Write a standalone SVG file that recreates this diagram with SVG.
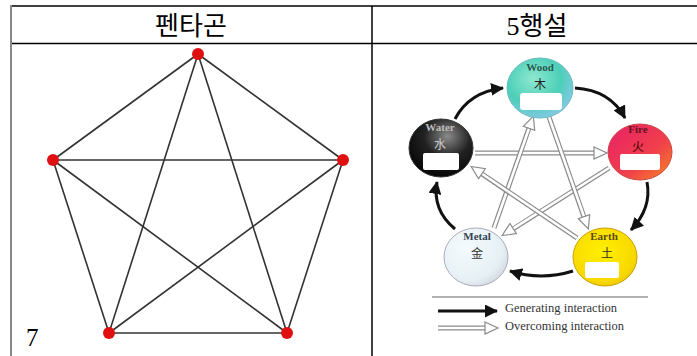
<svg xmlns="http://www.w3.org/2000/svg" width="697" height="356" viewBox="0 0 697 356">
<defs>
<style>
.hdr{font-family:"Liberation Serif","Noto Sans CJK KR",serif;font-size:26px;fill:#000;text-anchor:middle}
.edge{stroke:#333;stroke-width:1.6;fill:none}
.vtx{fill:#e01010}
.lbl{font-family:"Liberation Serif",serif;font-size:11px;text-anchor:middle;font-weight:bold}
.han{font-family:"Noto Sans CJK SC","Noto Sans CJK JP",sans-serif;font-size:12px;text-anchor:middle}
.blank{fill:#fff}
.gen{stroke:#111;stroke-width:3;fill:none;marker-end:url(#gh)}
.ovo{stroke:#8a8a8a;stroke-width:5;fill:none}
.ovi{stroke:#fff;stroke-width:2.6;fill:none;marker-end:url(#oh)}
.leg{font-family:"Liberation Serif",serif;font-size:12.5px;fill:#333}
</style>
<marker id="gh" markerUnits="userSpaceOnUse" markerWidth="15" markerHeight="13" refX="12" refY="6.5" orient="auto">
<path d="M0,0 L13,6.5 L0,13 Z" fill="#111"/>
</marker>
<marker id="oh" markerUnits="userSpaceOnUse" markerWidth="16" markerHeight="14" refX="13" refY="7" orient="auto">
<path d="M1,1 L14,7 L1,13 Z" fill="#fff" stroke="#8a8a8a" stroke-width="1.2"/>
</marker>
<radialGradient id="gWood" cx="0.4" cy="0.35" r="0.7">
<stop offset="0" stop-color="#8ee8d0"/><stop offset="0.6" stop-color="#4ccfb8"/><stop offset="1" stop-color="#8cc8ea"/>
</radialGradient>
<linearGradient id="gFire" x1="0" y1="0" x2="1" y2="1">
<stop offset="0" stop-color="#e8206a"/><stop offset="0.6" stop-color="#f0404a"/><stop offset="1" stop-color="#f88a20"/>
</linearGradient>
<radialGradient id="gWater" cx="0.6" cy="0.3" r="0.8">
<stop offset="0" stop-color="#8a8a8a"/><stop offset="0.45" stop-color="#222"/><stop offset="1" stop-color="#000"/>
</radialGradient>
<radialGradient id="gMetal" cx="0.35" cy="0.35" r="0.8">
<stop offset="0" stop-color="#f4fafd"/><stop offset="0.7" stop-color="#e6f0f4"/><stop offset="1" stop-color="#c8d0d4"/>
</radialGradient>
<radialGradient id="gEarth" cx="0.45" cy="0.4" r="0.75">
<stop offset="0" stop-color="#fff000"/><stop offset="0.7" stop-color="#f8d800"/><stop offset="1" stop-color="#e0b000"/>
</radialGradient>
</defs>
<rect width="697" height="356" fill="#fff"/>
<g id="table">
<line x1="11" y1="6" x2="697" y2="6" stroke="#000" stroke-width="1.3"/>
<line x1="11" y1="43.5" x2="697" y2="43.5" stroke="#000" stroke-width="1.3"/>
<line x1="11" y1="5" x2="11" y2="356" stroke="#888" stroke-width="2"/>
<line x1="372" y1="6" x2="372" y2="356" stroke="#000" stroke-width="1.5"/>
<text class="hdr" x="191" y="35">펜타곤</text>
<text class="hdr" x="537" y="35">5행설</text>
<text x="26" y="346" font-family="Liberation Serif,serif" font-size="25">7</text>
</g>
<g id="pentagon-edges">
<line class="edge" x1="198" y1="54" x2="53" y2="160"/>
<line class="edge" x1="198" y1="54" x2="343" y2="160"/>
<line class="edge" x1="198" y1="54" x2="109" y2="333"/>
<line class="edge" x1="198" y1="54" x2="287" y2="333"/>
<line class="edge" x1="53" y1="160" x2="343" y2="160"/>
<line class="edge" x1="53" y1="160" x2="109" y2="333"/>
<line class="edge" x1="53" y1="160" x2="287" y2="333"/>
<line class="edge" x1="343" y1="160" x2="109" y2="333"/>
<line class="edge" x1="343" y1="160" x2="287" y2="333"/>
<line class="edge" x1="109" y1="333" x2="287" y2="333"/>
</g>
<g id="v-top"><circle class="vtx" cx="198" cy="54" r="6"/></g>
<g id="v-left"><circle class="vtx" cx="53" cy="160" r="6"/></g>
<g id="v-right"><circle class="vtx" cx="343" cy="160" r="6"/></g>
<g id="v-bl"><circle class="vtx" cx="109" cy="333" r="6"/></g>
<g id="v-br"><circle class="vtx" cx="287" cy="333" r="6"/></g>
<g id="connectors">
<path class="ovo" d="M475,153 L594,153"/><path class="ovi" d="M475,153 L606,153"/>
<path class="ovo" d="M609,168 L513,229"/><path class="ovi" d="M609,168 L503,235"/>
<path class="ovo" d="M494,228 L529,128"/><path class="ovi" d="M494,228 L533,117"/>
<path class="ovo" d="M549,117 L584,217"/><path class="ovi" d="M549,117 L588,228"/>
<path class="ovo" d="M577,238 L482,174"/><path class="ovi" d="M577,238 L472,167"/>
<path class="gen" d="M575,88 Q610,90 625,118"/>
<path class="gen" d="M647,182 Q652,208 631,230"/>
<path class="gen" d="M573,271 Q541,281 510,271"/>
<path class="gen" d="M455,229 Q432,210 437,182"/>
<path class="gen" d="M455,119 Q469,92 503,88"/>
</g>
<g id="wood">
<ellipse cx="540" cy="88" rx="33" ry="30" fill="url(#gWood)" stroke="#6bb" stroke-width="1"/>
<text class="lbl" x="540" y="71" fill="#2a5a50">Wood</text>
<text class="han" x="540" y="89" fill="#222">木</text>
<rect class="blank" x="520" y="93" width="42" height="17" rx="3"/>
</g>
<g id="fire">
<ellipse cx="640" cy="152" rx="32" ry="28" fill="url(#gFire)" stroke="#c44" stroke-width="1"/>
<text class="lbl" x="638" y="133" fill="#6a1020">Fire</text>
<text class="han" x="638" y="151" fill="#400">火</text>
<rect class="blank" x="620" y="154" width="40" height="16" rx="2"/>
</g>
<g id="water">
<ellipse cx="441" cy="148" rx="32" ry="29" fill="url(#gWater)" stroke="#333" stroke-width="1"/>
<text class="lbl" x="440" y="131" fill="#bbb">Water</text>
<text class="han" x="440" y="149" fill="#ccc">水</text>
<rect class="blank" x="423" y="153" width="36" height="17" rx="2"/>
</g>
<g id="metal">
<ellipse cx="476" cy="257" rx="32" ry="29" fill="url(#gMetal)" stroke="#aab" stroke-width="1"/>
<text class="lbl" x="477" y="240" fill="#345">Metal</text>
<text class="han" x="477" y="258" fill="#333">金</text>
</g>
<g id="earth">
<ellipse cx="605" cy="257" rx="32" ry="29" fill="url(#gEarth)" stroke="#c9a000" stroke-width="1"/>
<text class="lbl" x="604" y="240" fill="#5a4a10">Earth</text>
<text class="han" x="607" y="258" fill="#332">土</text>
<rect class="blank" x="585" y="262" width="34" height="16" rx="2"/>
</g>
<g id="legend">
<line x1="432" y1="297" x2="648" y2="297" stroke="#999" stroke-width="1.5"/>
<path class="gen" d="M438,311 L497,311"/>
<path class="ovo" d="M438,328 L486,328"/><path class="ovi" d="M438,328 L497,328"/>
<text class="leg" x="505" y="312">Generating interaction</text>
<text class="leg" x="505" y="330">Overcoming interaction</text>
</g>
</svg>
